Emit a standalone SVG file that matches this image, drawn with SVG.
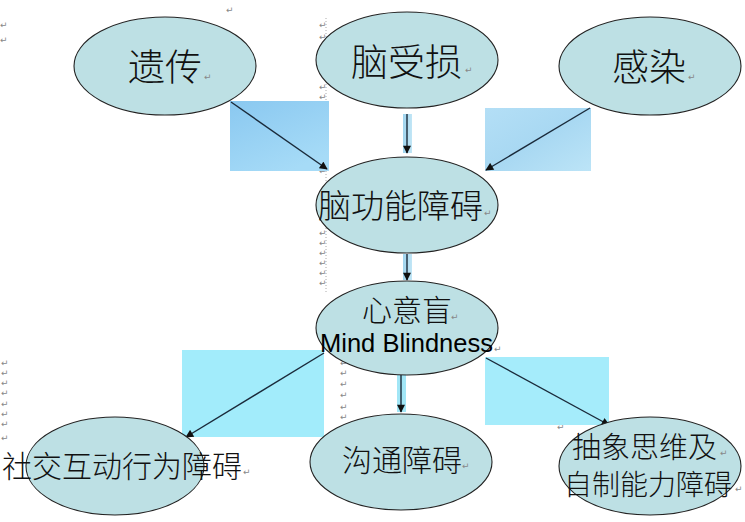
<svg xmlns="http://www.w3.org/2000/svg" width="745" height="522" viewBox="0 0 745 522">
<style>
.node ellipse{fill:#bde0e4;stroke:#222;stroke-width:1.1}
.cjk{font-family:"Noto Sans CJK SC","Liberation Serif",serif;fill:#111;font-weight:300}
.lat{font-family:"Liberation Sans",Arial,sans-serif;fill:#000}
.pm{font-family:"DejaVu Sans",sans-serif;font-size:9px;fill:#888}
.edge line{stroke:#1a2a3a;stroke-width:1.4;marker-end:url(#ah)}
.bg{stroke:none}
</style>
<defs>
<marker id="ah" viewBox="0 0 10 10" refX="9" refY="5" markerWidth="9" markerHeight="8" markerUnits="userSpaceOnUse" orient="auto">
<path d="M0,0 L10,5 L0,10 z" fill="#111"/>
</marker>
<linearGradient id="g1" x1="0" y1="0" x2="0.6" y2="1">
<stop offset="0" stop-color="#8ac8f0"/><stop offset="1" stop-color="#a6dbf7"/>
</linearGradient>
<linearGradient id="g2" x1="0" y1="0" x2="1" y2="1">
<stop offset="0" stop-color="#b4dff6"/><stop offset="0.5" stop-color="#a8d8f2"/><stop offset="1" stop-color="#bce4f7"/>
</linearGradient>
<linearGradient id="gv" x1="0" y1="0" x2="1" y2="0">
<stop offset="0" stop-color="#9fd4ee"/><stop offset="1" stop-color="#c2e6f6"/>
</linearGradient>
</defs>

<!-- paragraph marks -->
<g id="marks">
<line x1="326" y1="18" x2="326" y2="292" stroke="#aaa" stroke-width="1" stroke-dasharray="1,2"/>
<text class="pm" x="226" y="13">↵</text>
<text class="pm" x="0" y="28">↵</text>
<text class="pm" x="0" y="43">↵</text>
<text class="pm" x="319" y="28">↵</text><text class="pm" x="319" y="40">↵</text>
<text class="pm" x="319" y="90">↵</text><text class="pm" x="319" y="100">↵</text><text class="pm" x="319" y="110">↵</text><text class="pm" x="319" y="120">↵</text><text class="pm" x="319" y="130">↵</text><text class="pm" x="319" y="140">↵</text><text class="pm" x="319" y="150">↵</text><text class="pm" x="319" y="160">↵</text><text class="pm" x="319" y="174">↵</text>
<text class="pm" x="319" y="236">↵</text><text class="pm" x="319" y="246">↵</text><text class="pm" x="319" y="256">↵</text><text class="pm" x="319" y="266">↵</text><text class="pm" x="319" y="276">↵</text><text class="pm" x="319" y="286">↵</text>
<text class="pm" x="1" y="366">↵</text><text class="pm" x="1" y="376">↵</text><text class="pm" x="1" y="386">↵</text><text class="pm" x="1" y="396">↵</text><text class="pm" x="1" y="407">↵</text><text class="pm" x="1" y="417">↵</text><text class="pm" x="1" y="427">↵</text><text class="pm" x="1" y="441">↵</text>
<text class="pm" x="340" y="366">↵</text><text class="pm" x="340" y="376">↵</text><text class="pm" x="340" y="387">↵</text><text class="pm" x="340" y="398">↵</text><text class="pm" x="340" y="410">↵</text><text class="pm" x="340" y="420">↵</text><text class="pm" x="340" y="430">↵</text>
<text class="pm" x="557" y="366">↵</text><text class="pm" x="557" y="376">↵</text><text class="pm" x="557" y="387">↵</text><text class="pm" x="557" y="398">↵</text><text class="pm" x="557" y="410">↵</text><text class="pm" x="557" y="420">↵</text><text class="pm" x="557" y="430">↵</text>
<text class="pm" x="590" y="39">↵</text><text class="pm" x="590" y="49">↵</text>
</g>

<!-- connector backgrounds and connectors -->
<g id="connectors">
<rect class="bg" x="230" y="101" width="99" height="70" fill="url(#g1)"/>
<rect class="bg" x="485" y="108" width="106" height="63" fill="url(#g2)"/>
<rect class="bg" x="403" y="114" width="9" height="39" fill="url(#gv)"/>
<rect class="bg" x="403" y="254" width="9" height="26" fill="url(#gv)"/>
<rect class="bg" x="182" y="350" width="142" height="87" fill="#a2ecfb"/>
<rect class="bg" x="397" y="375" width="9" height="37" fill="#a2e6f6"/>
<rect class="bg" x="485" y="357" width="124" height="68" fill="#a5ecfb"/>
<g class="edge">
<line x1="231" y1="102" x2="327" y2="169"/>
<line x1="590" y1="108" x2="486" y2="170"/>
<line x1="407" y1="114" x2="407" y2="153"/>
<line x1="407" y1="254" x2="407" y2="280"/>
<line x1="324" y1="353" x2="186" y2="437"/>
<line x1="401" y1="375" x2="401" y2="412"/>
<line x1="486" y1="358" x2="609" y2="425"/>
</g>
</g>

<g id="n-yichuan" class="node">
<ellipse cx="165" cy="66" rx="91" ry="49"/>
<text class="cjk" x="128" y="81" font-size="37">遗传</text>
<text class="pm" x="204" y="80">↵</text>
</g>
<g id="n-naoshousun" class="node">
<ellipse cx="407" cy="60" rx="91" ry="48"/>
<text class="cjk" x="351" y="76" font-size="37">脑受损</text>
<text class="pm" x="465" y="73">↵</text>
</g>
<g id="n-ganran" class="node">
<ellipse cx="650" cy="66" rx="91" ry="49"/>
<text class="cjk" x="612" y="81" font-size="37">感染</text>
<text class="pm" x="688" y="80">↵</text>
</g>
<g id="n-naogongneng" class="node">
<ellipse cx="407" cy="205" rx="91" ry="48"/>
<text class="cjk" x="318" y="218" font-size="33">脑功能障碍</text>
<text class="pm" x="484" y="216">↵</text>
</g>
<g id="n-xinyimang" class="node">
<ellipse cx="407" cy="328" rx="91" ry="47"/>
<text class="cjk" x="362" y="321" font-size="30">心意盲</text>
<text class="pm" x="451" y="320">↵</text>
<text class="lat" x="320" y="352" font-size="25" textLength="173" lengthAdjust="spacingAndGlyphs">Mind Blindness</text>
<text class="pm" x="494" y="352">↵</text>
</g>
<g id="n-shejiao" class="node">
<ellipse cx="115" cy="466" rx="89" ry="49"/>
<text class="cjk" x="2" y="477" font-size="30">社交互动行为障碍</text>
<text class="pm" x="243" y="475">↵</text>
</g>
<g id="n-goutong" class="node">
<ellipse cx="401" cy="462" rx="91" ry="48"/>
<text class="cjk" x="342" y="471" font-size="30">沟通障碍</text>
<text class="pm" x="462" y="469">↵</text>
</g>
<g id="n-chouxiang" class="node">
<ellipse cx="650" cy="466" rx="91" ry="49"/>
<text class="cjk" x="572" y="458" font-size="29">抽象思维及</text>
<text class="pm" x="720" y="456">↵</text>
<text class="cjk" x="564" y="495" font-size="28">自制能力障碍</text>
<text class="pm" x="735" y="492">↵</text>
</g>
</svg>
